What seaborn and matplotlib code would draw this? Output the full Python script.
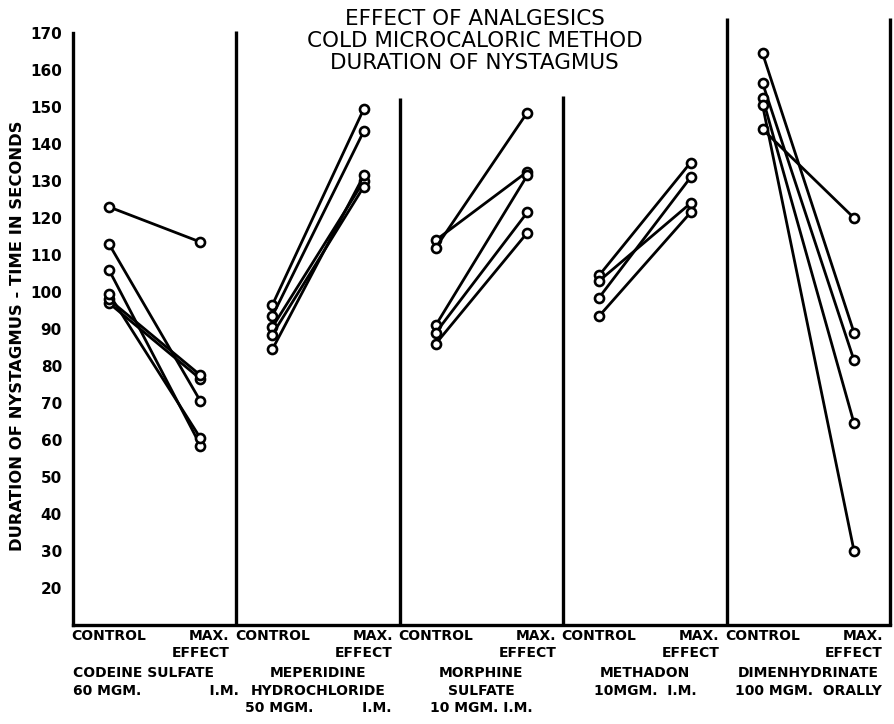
import pandas as pd
import matplotlib.pyplot as plt
import seaborn as sns

# Groups (panels) and axis texts
drug_labels = [
    "CODEINE SULFATE\n60 MGM.              I.M.",
    "MEPERIDINE\nHYDROCHLORIDE\n50 MGM.          I.M.",
    "MORPHINE\nSULFATE\n10 MGM. I.M.",
    "METHADON\n10MGM.  I.M.",
    "DIMENHYDRINATE\n100 MGM.  ORALLY",
]
phase_labels = ["CONTROL", "MAX.\nEFFECT"]
y_ticks = list(range(20, 171, 10))

# Duration of nystagmus (sec): control value and max. effect value per subject
codeine_control = [123, 113, 106, 97, 98, 99.5]
codeine_max = [113.5, 70.5, 58.5, 76.5, 77.5, 60.5]

meperidine_control = [96.5, 93.5, 90.5, 88.5, 84.5]
meperidine_max = [149.5, 143.5, 130, 128.5, 131.5]

morphine_control = [114, 112, 91, 89, 86]
morphine_max = [132.5, 148.5, 131.5, 121.5, 116]

methadon_control = [104.5, 103, 98.5, 93.5]
methadon_max = [135, 124, 131, 121.5]

dimen_control = [164.5, 156.5, 152.5, 150.5, 144]
dimen_max = [89, 81.5, 64.5, 30, 120]

groups = [
    (codeine_control, codeine_max),
    (meperidine_control, meperidine_max),
    (morphine_control, morphine_max),
    (methadon_control, methadon_max),
    (dimen_control, dimen_max),
]

# long table: one row per point
rows = []
for g, (ctrl, mx) in enumerate(groups):
    for s, (c, m) in enumerate(zip(ctrl, mx)):
        rows.append({"group": g, "subject": f"{g}-{s}", "phase": 0, "seconds": c})
        rows.append({"group": g, "subject": f"{g}-{s}", "phase": 1, "seconds": m})
df = pd.DataFrame(rows)

# position of the two columns inside each panel
offset = {0: 0.22, 1: 0.78}
df["x"] = df["group"] + df["phase"].map(offset)

# Styling
sns.set_style("white")
plt.rcParams["font.family"] = ["DejaVu Sans"]
plt.rcParams["text.color"] = "black"

fig = plt.figure(figsize=(8.94, 7.24), dpi=100)
ax = fig.add_axes([73 / 894, 99 / 724, 817 / 894, 592 / 724])

sns.lineplot(data=df, x="x", y="seconds", units="subject", estimator=None,
             sort=False, color="black", lw=2.0, marker="o", ms=6.5,
             mfc="white", mec="black", mew=1.9, legend=False, ax=ax)

ax.set_xlim(0, 5)
ax.set_ylim(10, 170)

# panel dividers (and right border)
ax.vlines([1, 2, 3, 4, 5], 10, [170.5, 152.5, 153, 174, 174],
          color="black", lw=2.4, clip_on=False)

for side in ["top", "right"]:
    ax.spines[side].set_visible(False)
for side in ["left", "bottom"]:
    ax.spines[side].set_linewidth(2.4)
    ax.spines[side].set_color("black")

# ticks
ax.set_yticks(y_ticks)
ax.set_yticklabels([str(v) for v in y_ticks], fontsize=11, fontweight="bold")
ax.tick_params(axis="y", direction="in", length=6, width=1.6, pad=8,
               colors="black")

xt = [g + offset[p] for g in range(len(groups)) for p in (0, 1)]
ax.set_xticks(xt)
ax.set_xticklabels(phase_labels * len(groups), fontsize=10, fontweight="bold",
                   va="top", linespacing=1.25)
for lbl in ax.get_xticklabels():
    lbl.set_multialignment("right")
ax.tick_params(axis="x", direction="in", length=11, width=1.6, pad=3,
               colors="black")

ax.set_xlabel("")
ax.set_ylabel("")

# drug names under each panel
for g, txt in enumerate(drug_labels):
    if g == 0:
        ax.text(0.0, -0.07, txt, transform=ax.get_xaxis_transform(), ha="left",
                va="top", fontsize=10, fontweight="bold", linespacing=1.3,
                color="black")
    else:
        ax.text(g + 0.5, -0.07, txt, transform=ax.get_xaxis_transform(),
                ha="center", va="top", fontsize=10, fontweight="bold",
                linespacing=1.3, multialignment="center", color="black")

fig.text(0.020, 0.536, "DURATION OF NYSTAGMUS - TIME IN SECONDS", rotation=90,
         ha="center", va="center", fontsize=11.8, fontweight="bold",
         color="black")

fig.text(0.531, 1 - 9 / 724,
         "EFFECT OF ANALGESICS\nCOLD MICROCALORIC METHOD\nDURATION OF NYSTAGMUS",
         ha="center", va="top", fontsize=15.5, linespacing=1.12, color="black")

fig.savefig("out.png", dpi=100)
